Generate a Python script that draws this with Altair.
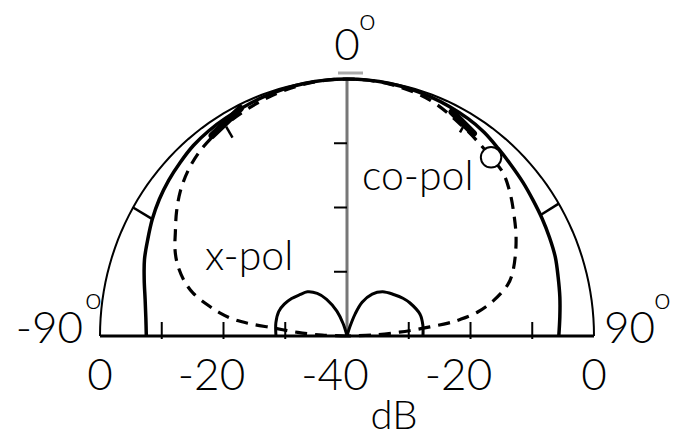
import altair as alt
import pandas as pd

# Radiation pattern on a half-polar grid: 0 dB at the rim, -40 dB at the centre.
# Angles in degrees, negative to the left of boresight.

# thick solid pattern
copol_angle = [-90, -85, -80, -75, -70, -65, -60, -55, -50, -45, -40, -35, -30, -20, -10, 0,
               10, 20, 30, 35, 40, 45, 50, 55, 60, 65, 70, 75, 80, 85, 90]
copol_db = [-7.5, -7.3, -6.8, -6.0, -5.1, -4.4, -3.6, -2.9, -2.3, -1.8, -1.3, -1.0, -0.8, -0.4, -0.1, 0.0,
            -0.1, -0.4, -0.9, -1.3, -1.9, -2.4, -2.8, -3.2, -3.5, -3.8, -4.1, -4.6, -5.0, -5.4, -5.7]

# dashed pattern
xpol_angle = [-90, -88, -86, -84, -83, -82, -80, -78, -75, -72, -68, -64, -60, -55, -50, -45,
              -40, -35, -30, -20, -10, 0, 10, 20, 30, 36, 40, 45, 50, 55, 60, 65, 70, 73, 77,
              80, 82, 83, 84, 85, 86, 88, 90]
xpol_db = [-40, -36, -32, -28, -24, -21.5, -19, -17, -14.2, -12.3, -10.4, -9.0, -7.9, -6.3, -4.8, -3.6,
           -2.7, -2.1, -1.6, -0.8, -0.2, 0.0, -0.2, -0.9, -2.4, -3.2, -3.7, -4.2, -5.5, -7.0, -8.4, -9.9,
           -11.5, -12.8, -15.7, -18.5, -21.5, -23.5, -26.5, -29, -31.5, -36, -40]

# two small low-level lobes either side of boresight
lobe_l_angle = [-90, -80, -71, -64, -57, -50, -43, -36, -30, -23, -18, -15]
lobe_l_db = [-28.5, -28.3, -28.3, -28.7, -29.3, -30.0, -30.6, -31.8, -33.4, -35.8, -38.0, -40.0]
lobe_r_angle = [15, 18, 21, 25, 32, 40, 50, 57, 63, 74, 82, 90]
lobe_r_db = [-40.0, -38.5, -36.3, -34.2, -32.3, -31.0, -30.0, -29.2, -28.6, -27.7, -27.6, -27.7]

# half-power markers between the rim and the solid pattern
hp_angle = [-60, 59]
hp_db = [-3.6, -3.5]

# arrow marks near +-30 deg
arrow_from_angle = [-26, 26]
arrow_from_db = [-0.6, -1.2]
arrow_to_angle = [-35, 33]
arrow_to_db = [-1.9, -2.4]
arrow_tail_angle = [-31, 30]
arrow_tail_outer = [-2.0, -2.4]
arrow_tail_inner = [-4.0, -3.4]

# open circle on the dashed pattern
circle_angle = [40]
circle_db = [-3.7]

# radial grid
rim_angle = list(range(-90, 91, 2))
tick_db = [-10, -20, -30]
dB_label_values = [0, -20, -40, -20, 0]
dB_label_side = [-90, -90, 0, 90, 90]

FONT = "Lato"
WEIGHT = 300

xs = alt.Scale(domain=[-347 / 247, 329 / 247], nice=False, zero=False)
ys = alt.Scale(domain=[-101 / 257, 336 / 257], nice=False, zero=False)


def rad(d):
    return f"max(0, (datum.{d} + 40) / 40)"


def polar(chart, a="angle", d="db", u="u", v="v"):
    return chart.transform_calculate(**{
        u: f"{rad(d)} * sin(datum.{a} * PI / 180)",
        v: f"{rad(d)} * cos(datum.{a} * PI / 180)",
    })


def curve_df(name, angles, dbs):
    return pd.DataFrame({"curve": name, "angle": angles, "db": dbs, "order": list(range(len(angles)))})


def seg_df(a1, d1, a2, d2):
    return pd.DataFrame({"a1": a1, "d1": d1, "a2": a2, "d2": d2})


def line_layer(df, **mark):
    base = alt.Chart(df).mark_line(**mark)
    return polar(base).encode(
        x=alt.X("u:Q", scale=xs, axis=None),
        y=alt.Y("v:Q", scale=ys, axis=None),
        detail="curve:N",
        order="order:Q",
    )


def seg_layer(df, **mark):
    base = alt.Chart(df).mark_rule(**mark)
    base = polar(base, "a1", "d1", "u1", "v1")
    base = polar(base, "a2", "d2", "u2", "v2")
    return base.encode(
        x=alt.X("u1:Q", scale=xs, axis=None),
        y=alt.Y("v1:Q", scale=ys, axis=None),
        x2="u2:Q",
        y2="v2:Q",
    )


rim = line_layer(curve_df("rim", rim_angle, [0] * len(rim_angle)),
                 color="black", strokeWidth=2, interpolate="linear")
copol = line_layer(curve_df("copol", copol_angle, copol_db),
                   color="black", strokeWidth=3.5, interpolate="catmull-rom")
xpol = line_layer(curve_df("xpol", xpol_angle, xpol_db),
                  color="black", strokeWidth=3.2, strokeDash=[12, 8], interpolate="catmull-rom")
lobes = line_layer(pd.concat([curve_df("lobe_l", lobe_l_angle, lobe_l_db),
                              curve_df("lobe_r", lobe_r_angle, lobe_r_db)]),
                   color="black", strokeWidth=3, interpolate="catmull-rom")
arrows = seg_layer(seg_df(arrow_from_angle, arrow_from_db, arrow_to_angle, arrow_to_db),
                   color="black", strokeWidth=7, strokeCap="round")
tails = seg_layer(seg_df(arrow_tail_angle, arrow_tail_outer, arrow_tail_angle, arrow_tail_inner),
                  color="black", strokeWidth=2.5)
hp = seg_layer(seg_df(hp_angle, [0, 0], hp_angle, hp_db), color="black", strokeWidth=2.5)
baseline = seg_layer(seg_df([-90], [0], [90], [0]), color="black", strokeWidth=3)
centre = seg_layer(seg_df([0], [-40], [0], [0]), color="#777777", strokeWidth=3)

# ticks along the baseline (both halves) and along the boresight line
bt = pd.DataFrame({"angle": [-90] * 3 + [90] * 3, "db": tick_db * 2})
base_ticks = polar(alt.Chart(bt).mark_rule(color="black", strokeWidth=2, yOffset=3, y2Offset=-14)).encode(
    x=alt.X("u:Q", scale=xs, axis=None), y=alt.Y("v:Q", scale=ys, axis=None), y2="v:Q")
vt = pd.DataFrame({"angle": [0] * 3, "db": tick_db})
vert_ticks = polar(alt.Chart(vt).mark_rule(color="black", strokeWidth=2, x2Offset=-13)).encode(
    x=alt.X("u:Q", scale=xs, axis=None), y=alt.Y("v:Q", scale=ys, axis=None), x2="u:Q")
top_tick = polar(alt.Chart(pd.DataFrame({"angle": [0], "db": [0]})).mark_rule(
    color="#aaaaaa", strokeWidth=3, xOffset=-9, x2Offset=16, yOffset=-6, y2Offset=-6)).encode(
    x=alt.X("u:Q", scale=xs, axis=None), y=alt.Y("v:Q", scale=ys, axis=None), x2="u:Q", y2="v:Q")

marker = polar(alt.Chart(pd.DataFrame({"angle": circle_angle, "db": circle_db})).mark_point(
    shape="circle", size=420, filled=True, fill="white", stroke="black", strokeWidth=2, opacity=1)).encode(
    x=alt.X("u:Q", scale=xs, axis=None), y=alt.Y("v:Q", scale=ys, axis=None))

# text: angle labels on the rim, dB labels under the baseline, curve names
labels = pd.DataFrame([
    # text, angle, db, align, dx, dy, size
    ("0", 0, 0, "center", 0, -19, 44),
    ("o", 0, 0, "left", 12, -49, 30),
    ("-90", -90, 0, "right", -17, 7, 44),
    ("o", -90, 0, "left", -15, -27, 30),
    ("90", 90, 0, "left", 10, 7, 44),
    ("o", 90, 0, "left", 60, -27, 30),
    ("dB", 0, -40, "center", 47, 93, 40),
    ("x-pol", -90, -40, "left", -142, -66, 41),
    ("co-pol", 90, -40, "left", 15, -146, 41),
], columns=["text", "angle", "db", "halign", "dx", "dy", "size"])
db_labels = pd.DataFrame({
    "text": [str(v) for v in dB_label_values],
    "angle": dB_label_side,
    "db": dB_label_values,
})
db_labels["dx"] = [0 if v == 0 else -12 for v in dB_label_values]


def text_layer(df, align, dx, dy, size):
    return polar(alt.Chart(df).mark_text(
        align=align, baseline="alphabetic", dx=dx, dy=dy, fontSize=size, font=FONT,
        fontWeight=WEIGHT, color="black")).encode(
        x=alt.X("u:Q", scale=xs, axis=None), y=alt.Y("v:Q", scale=ys, axis=None), text="text:N")


texts = [text_layer(labels.iloc[[i]], str(r["halign"]), int(r["dx"]), int(r["dy"]), int(r["size"]))
         for i, r in labels.iterrows()]
texts += [text_layer(db_labels.iloc[[i]], "center", int(r["dx"]), 54, 44) for i, r in db_labels.iterrows()]

chart = alt.layer(
    centre, rim, copol, xpol, lobes, baseline, base_ticks, vert_ticks, top_tick,
    hp, arrows, tails, marker, *texts,
).properties(
    width=676, height=437, padding=0, background="white",
    autosize=alt.AutoSizeParams(type="none"),
).configure_view(stroke=None)

chart.save("out.html", embed_options={"renderer": "svg", "actions": False})
